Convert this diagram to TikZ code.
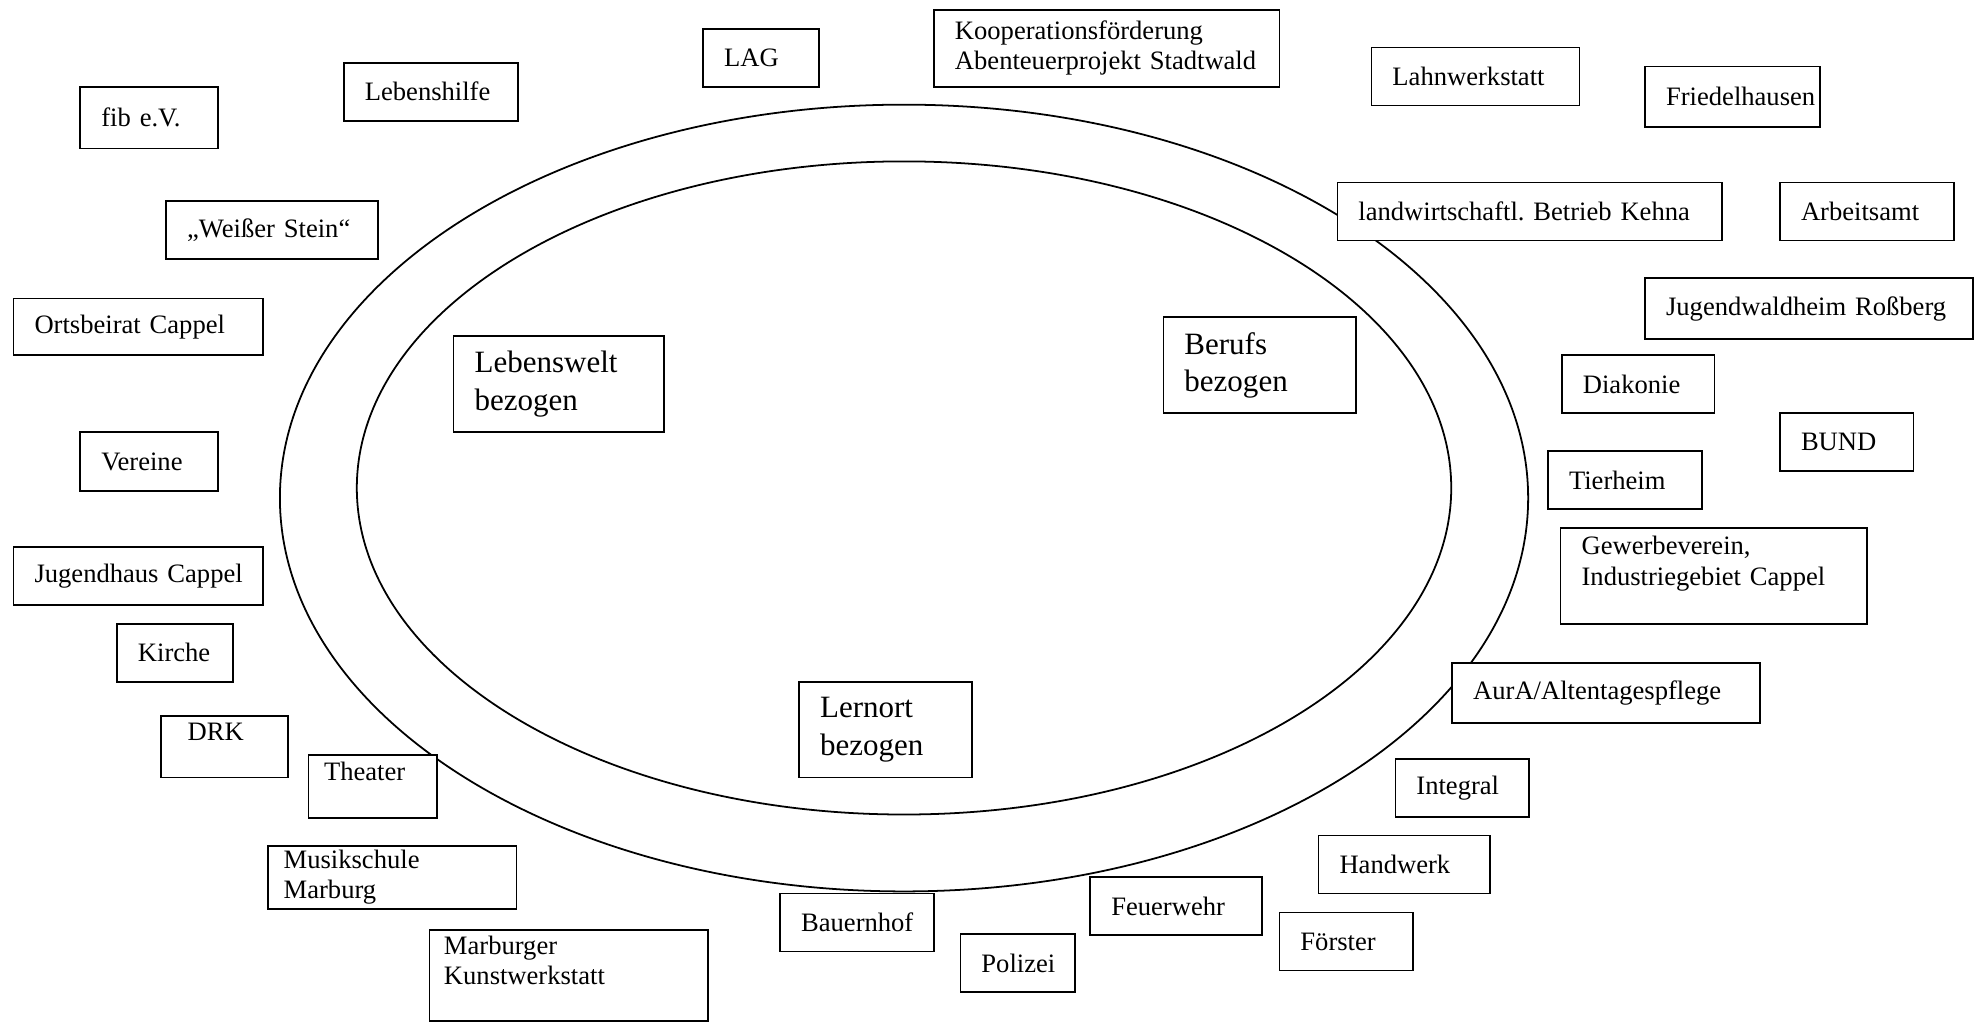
\documentclass[tikz,border=0pt]{standalone}
\usepackage{fontspec}
\setmainfont{Liberation Serif}
\frenchspacing

\begin{document}
\begin{tikzpicture}[x=0.02cm, y=-0.02cm, line width=0.8pt,
  every node/.style={font=\fontsize{12}{13.8}\selectfont},
  org/.style 2 args={draw, fill=white, anchor=north west, inner xsep=0pt, inner ysep=0pt,
    align=left, text width=#1*0.02cm, minimum height=#2*0.02cm,
    execute at begin node={\leftskip=9.5pt}},
  big/.style={font=\fontsize{14}{17}\selectfont}]
  \useasboundingbox (0,0) rectangle (1568,811);
  % rings
  \draw (717,395) ellipse [x radius=495, y radius=312];
  \draw (717,387) ellipse [x radius=434, y radius=259];
  % inner fields
  \node[org={167}{76}, big] (lebenswelt) at (359,266) {Lebenswelt\\bezogen};
  \node[org={153}{76}, big] (berufs) at (922,251) {Berufs\\bezogen};
  \node[org={137}{76}, big] (lernort) at (633,540) {Lernort\\bezogen};
  % partners, top and left
  \node[org={109}{49}] (fib) at (63,68) {fib e.V.};
  \node[org={138}{46}] (lebenshilfe) at (272,49) {Lebenshilfe};
  \node[org={92}{46}] (lag) at (557,22) {LAG};
  \node[org={274}{61}] (koop) at (740,7) {Kooperationsförderung\\Abenteuerprojekt Stadtwald};
  \node[org={168}{46}] (weisser) at (131,159) {„Weißer Stein“};
  \node[org={198}{45}] (ortsbeirat) at (10,236) {Ortsbeirat Cappel};
  \node[org={109}{47}] (vereine) at (63,342) {Vereine};
  \node[org={198}{46}] (jugendhaus) at (10,433) {Jugendhaus Cappel};
  \node[org={92}{46}] (kirche) at (92,494) {Kirche};
  \node[org={101}{49}, execute at begin node={\leftskip=12pt}] (drk) at (127,567) {DRK\\\mbox{}};
  \node[org={102}{50}, execute at begin node={\leftskip=7pt}] (theater) at (244,598) {Theater\\\mbox{}};
  \node[org={197}{50}, execute at begin node={\leftskip=7pt}] (musikschule) at (212,670) {Musikschule\\Marburg};
  \node[org={221}{72}, execute at begin node={\leftskip=6.5pt}] (kunstwerkstatt) at (340,737) {Marburger\\Kunstwerkstatt\\\mbox{}};
  % partners, bottom
  \node[org={122}{46}] (bauernhof) at (618,708) {Bauernhof};
  \node[org={91}{46}] (polizei) at (761,740) {Polizei};
  \node[org={136}{46}] (feuerwehr) at (864,695) {Feuerwehr};
  \node[org={106}{46}] (foerster) at (1014,723) {Förster};
  \node[org={136}{46}] (handwerk) at (1045,662) {Handwerk};
  \node[org={106}{46}] (integral) at (1106,601) {Integral};
  % partners, right
  \node[org={244}{48}] (aura) at (1151,525) {AurA/Altentagespflege};
  \node[org={243}{76}] (gewerbe) at (1237,418) {Gewerbeverein,\\Industriegebiet Cappel\\\mbox{}};
  \node[org={122}{46}] (tierheim) at (1227,357) {Tierheim};
  \node[org={106}{46}] (bund) at (1411,327) {BUND};
  \node[org={121}{46}] (diakonie) at (1238,281) {Diakonie};
  \node[org={260}{48}] (jugendwald) at (1304,220) {Jugendwaldheim Roßberg};
  \node[org={305}{46}] (kehna) at (1060,144) {landwirtschaftl. Betrieb Kehna};
  \node[org={138}{46}] (arbeitsamt) at (1411,144) {Arbeitsamt};
  \node[org={165}{46}] (lahn) at (1087,37) {Lahnwerkstatt};
  \node[org={139}{48}] (friedel) at (1304,52) {Friedelhausen};
\end{tikzpicture}
\end{document}
